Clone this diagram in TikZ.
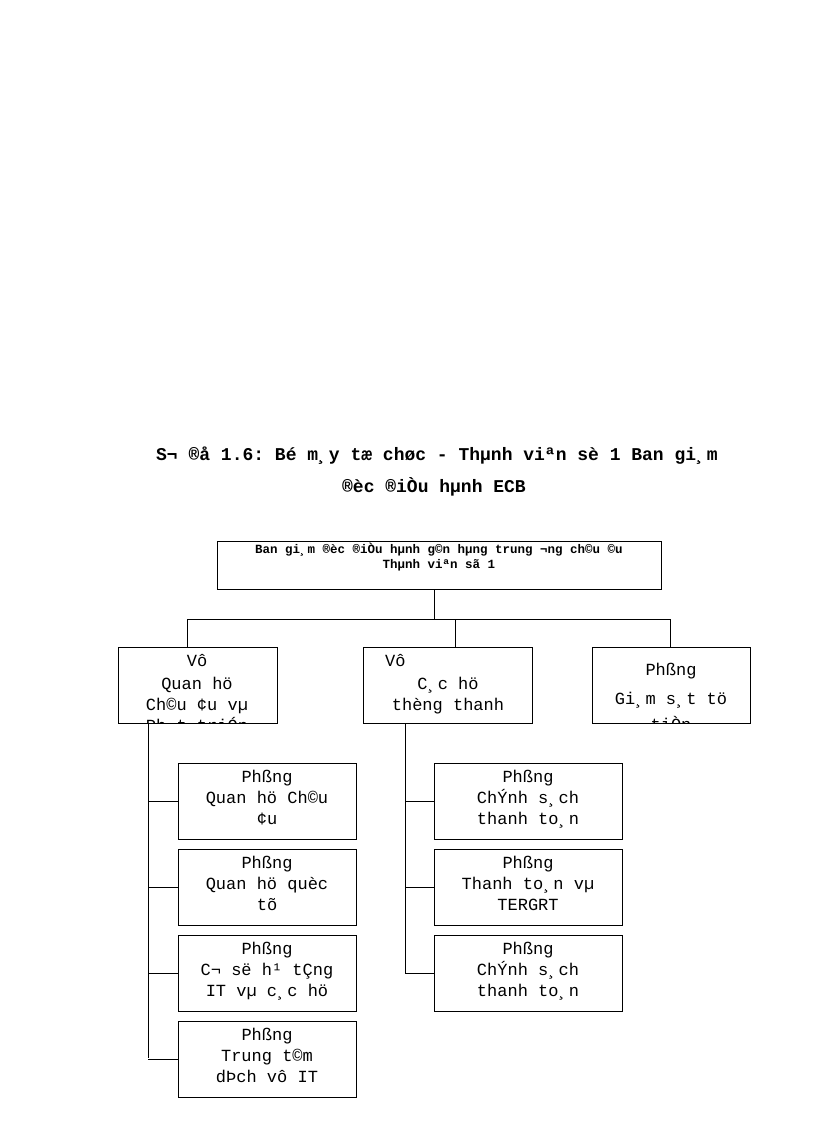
\documentclass[tikz,border=0pt]{standalone}
\usepackage{fontspec}
\setmonofont{Liberation Mono}
\begin{document}
\begin{tikzpicture}[x=1pt,y=-1pt,
  bx/.style={draw,line width=0.8pt},
  tx/.style={font=\ttfamily\fontsize{17}{21}\selectfont,inner sep=0,anchor=base},
  ln/.style={line width=0.8pt}]
\useasboundingbox (0,0) rectangle (816,1123);
% title
\node[tx,font=\ttfamily\bfseries\fontsize{18}{21}\selectfont] (t1) at (437,460) {S¬ ®å 1.6: Bé m¸y tæ chøc - Thµnh viªn sè 1 Ban gi¸m};
\node[tx,font=\ttfamily\bfseries\fontsize{18}{21}\selectfont] (t2) at (434,492) {®èc ®iÒu hµnh ECB};
% top box
\draw[bx] (217,541) rectangle (661,589);
\node[tx,font=\ttfamily\bfseries\fontsize{12.5}{15}\selectfont] (top1) at (439,553) {Ban gi¸m ®èc ®iÒu hµnh g©n hµng trung ¬ng  ch©u ©u};
\node[tx,font=\ttfamily\bfseries\fontsize{12.5}{15}\selectfont] (top2) at (439,568) {Thµnh viªn sã 1};
\coordinate (tb) at (434,589);
\coordinate (bus) at (434,619);
\draw[ln] (tb) -- (bus);
\draw[ln] (187,647) -- (187,619) -- (670,619) -- (670,647);
\draw[ln] (455,619) -- (455,647);
% second level
\draw[bx] (118,647) rectangle (277,723);
\draw[bx] (363,647) rectangle (532,723);
\draw[bx] (592,647) rectangle (750,723);
\begin{scope}
\clip (118,647) rectangle (277,723);
\node[tx] (a1) at (197,666) {Vô};
\node[tx] (a2) at (197,689) {Quan hö};
\node[tx] (a3) at (197,710) {Ch©u ¢u vµ};
\node[tx] (a4) at (197,731) {Ph¸t triÓn};
\end{scope}
\node[tx,anchor=base west] (b1) at (385,666) {Vô};
\node[tx] (b2) at (448,689) {C¸c hö};
\node[tx] (b3) at (448,710) {thèng thanh};
\begin{scope}
\clip (592,647) rectangle (750,723);
\node[tx] (c1) at (671,675) {Phßng};
\node[tx] (c2) at (671,704) {Gi¸m s¸t tö};
\node[tx] (c3) at (671,730) {tiÒn};
\end{scope}
% left column
\draw[ln] (148,723) -- (148,1058);
\foreach \y/\t/\u/\v in {763/Quan hö Ch©u/¢u/, 849/Quan hö quèc/tõ/, 935/C¬ së h¹ tÇng/IT vµ c¸c hö/, 1021/Trung t©m/dÞch vô IT/}{
  \draw[bx] (178,\y) rectangle (356,\y+76);
  \draw[ln] (148,\y+38) -- (178,\y+38);
  \node[tx] at (267,\y+19) {Phßng};
  \node[tx] at (267,\y+40) {\t};
  \node[tx] at (267,\y+61) {\u};
}
% right column
\draw[ln] (405,723) -- (405,973);
\foreach \y/\t/\u in {763/ChÝnh s¸ch/thanh to¸n, 849/Thanh to¸n vµ/TERGRT, 935/ChÝnh s¸ch/thanh to¸n}{
  \draw[bx] (434,\y) rectangle (622,\y+76);
  \draw[ln] (405,\y+38) -- (434,\y+38);
  \node[tx] at (528,\y+19) {Phßng};
  \node[tx] at (528,\y+40) {\t};
  \node[tx] at (528,\y+61) {\u};
}
\end{tikzpicture}
\end{document}
